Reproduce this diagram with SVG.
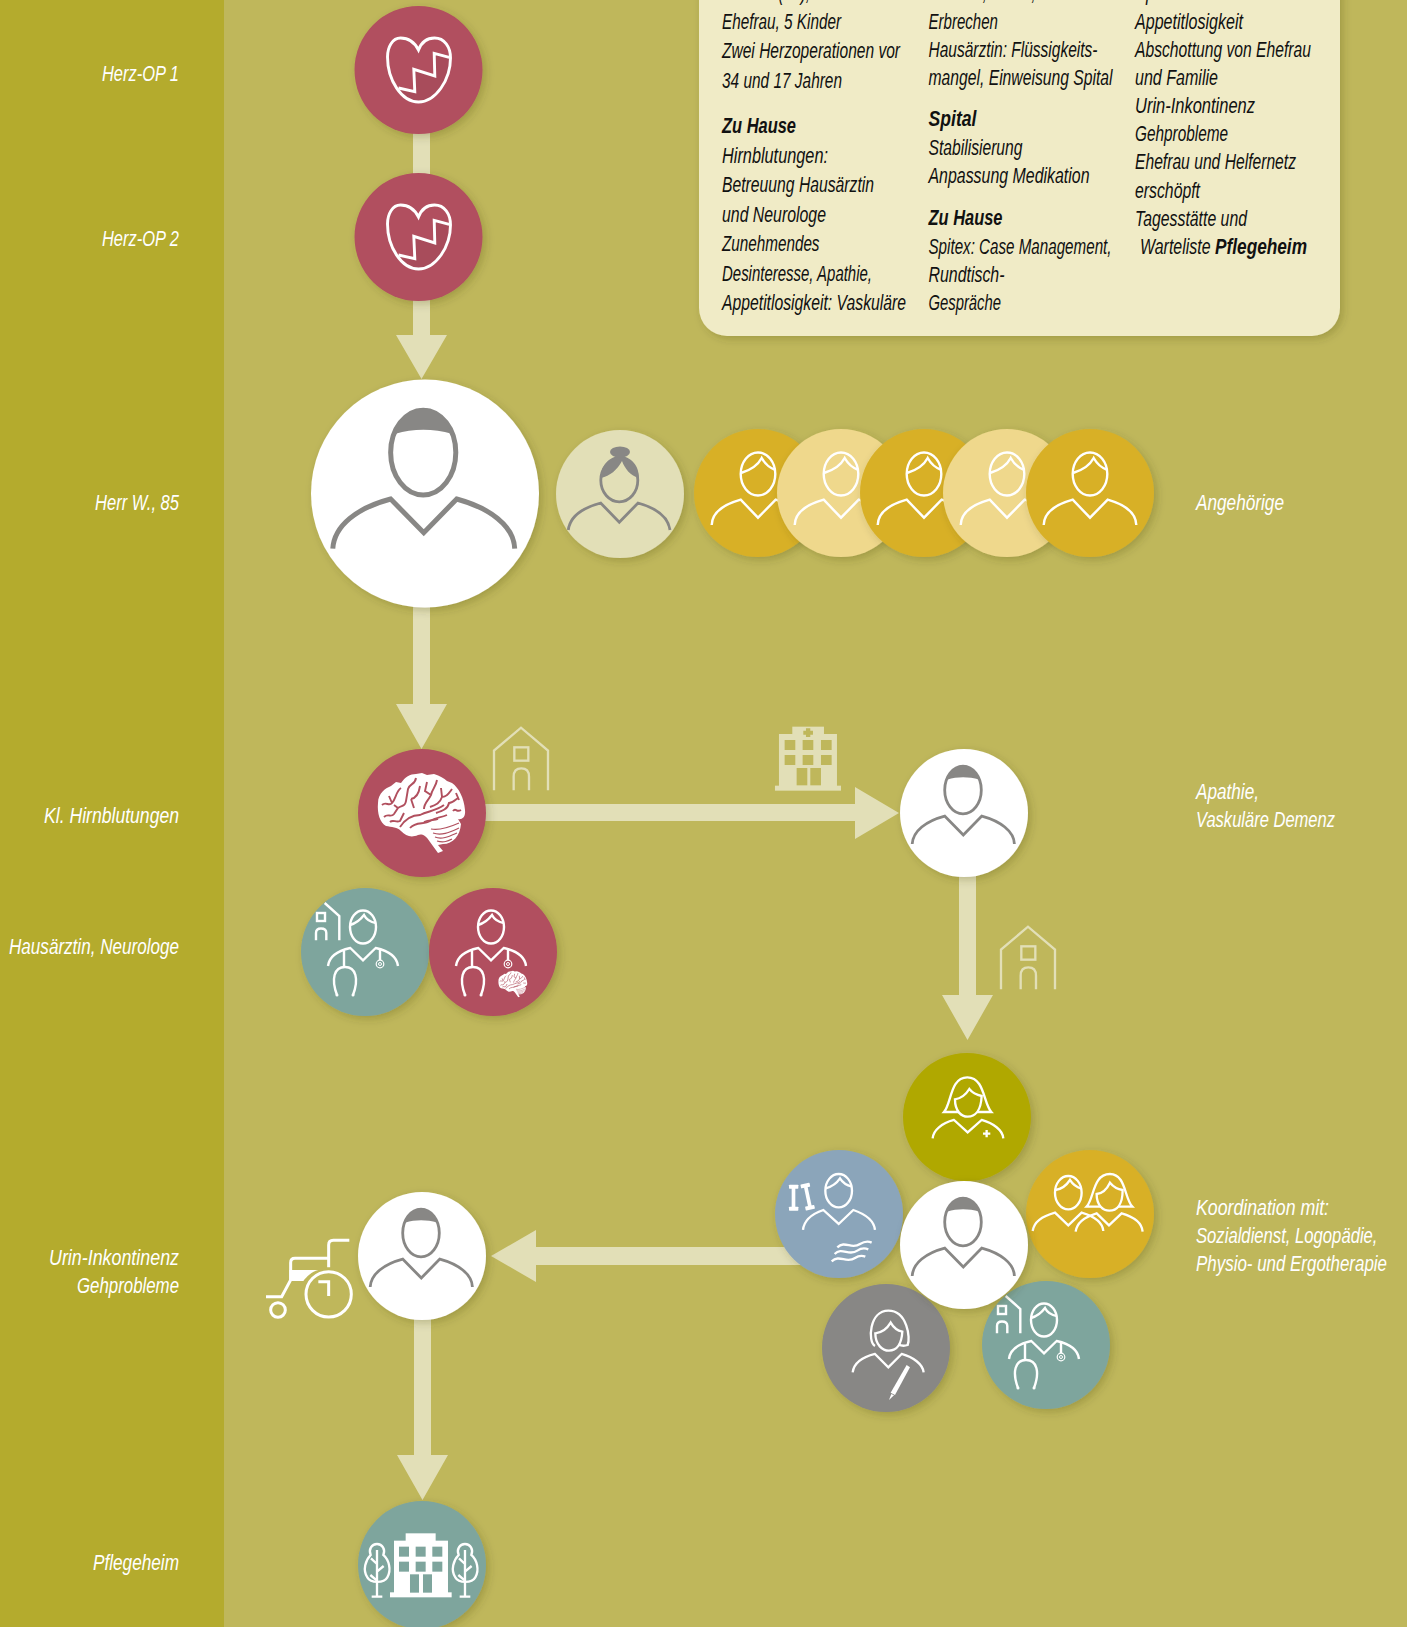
<svg xmlns="http://www.w3.org/2000/svg" width="1407" height="1627" viewBox="0 0 1407 1627">
<style>
text{font-family:"Liberation Sans Narrow","Liberation Sans",Arial,sans-serif;font-style:italic;font-size:22px;fill:#111}
.w text{fill:#fff}
.b{font-weight:bold}
.e{text-anchor:end}
.ln{fill:none;stroke:#fff;stroke-width:2.4}
.gy{fill:none;stroke:#888785;stroke-width:2.8}
.z{fill:none;stroke:#fff;stroke-width:7}
.zf{fill:#fff}
.pale{fill:none;stroke:#e2dfb7;stroke-width:7}
.arrow{fill:#e2dfb7}
</style>
<defs>
<filter id="sh" x="-20%" y="-20%" width="150%" height="150%"><feDropShadow dx="3" dy="3" stdDeviation="4" flood-color="#3a3a10" flood-opacity=".24"/></filter>
<g id="person" class="gy">
<ellipse cx="-1" cy="-23" rx="18.3" ry="23.8"/>
<path d="M-16.5 -33.5C-13 -43 -6 -48 -1 -48C5 -48 11 -42 15 -33.5C5 -36.5 -7 -36.5 -16.5 -33.5Z" fill="#888785" stroke="none"/>
<path d="M-51.8 31C-51 18 -38 8 -19.3 3.1L-.7 22L17.8 3.1C36 8 50 18 50.4 31"/>
</g>
<g id="man" class="ln">
<ellipse cx="0" cy="-19" rx="17.3" ry="21.5"/>
<path d="M-17 -20C-7 -23 0 -28 3.7 -35C7 -29 12 -25 17.5 -23"/>
<path d="M-46.3 32C-46 20 -36 12 -17.3 6.7L0 24.7L17.7 6.7C36 12 46 20 46.3 32"/>
</g>
<g id="doctor" class="ln">
<ellipse cx="-2" cy="-25" rx="13" ry="16.5"/>
<path d="M-15 -27C-8 -29 -4 -33 -1 -37C1 -33 5 -30 11 -29"/>
<path d="M-37 14C-36 5 -28 -1 -14.7 -4L-2 8.3L10.7 -4C24 -1 32 5 33 14"/>
<path d="M-21 -1V14M15 -2V8"/>
<path d="M-28 43C-34 27 -31 15 -20 15C-9 15 -6 27 -12 43"/>
<circle cx="-28" cy="43" r="1.5" fill="#fff" stroke="none"/><circle cx="-12" cy="43" r="1.5" fill="#fff" stroke="none"/>
<circle cx="15" cy="12" r="3.8" stroke-width="1.2"/><circle cx="15" cy="12" r="1.5" stroke-width="1"/>
</g>
<g id="clinic" class="ln">
<rect x="-48" y="-39" width="8" height="8"/>
<path d="M-49 -11.7V-19Q-49 -23.5 -44 -23.5Q-38.7 -23.5 -38.7 -19V-11.7"/>
<path d="M-40.3 -49L-25.7 -36V-11.7"/>
</g>
<g id="heart">
<path d="M-20 18L-3.7 21.7L-4.7 -.7L16.3 6L15.7 -16.7L30.7 -12.7C31 8 18 32 0 32C-9 32 -16 25 -20 18Z" fill="#a84c5b"/>
<path class="ln" style="stroke-width:2.9" d="M0 -20C-4 -28 -11 -32 -18 -32C-26 -32 -31 -23 -31 -13C-31 10 -17 32 0 32C17 32 32 10 32 -12C32 -23 26 -32 16 -32C9 -32 3 -28 0 -20Z"/>
<path class="ln" style="stroke-width:2.9" d="M-20 18L-3.7 21.7L-4.7 -.7L16.3 6L15.7 -16.7L30.7 -12.7"/>
</g>
<g id="brain">
<path fill="#fff" d="M-44 -10C-44 -20 -36 -25 -31 -27L-26 -31L-21 -30C-17 -36 -12 -39 -6 -39L0 -40L5 -38L12 -39C18 -37 22 -35 25 -32L30 -30C37 -25 42 -15 43 -3C44 5 39 7 36 6L39 11C38 23 31 31 21 31L16 32L21 38L16 40L8 29C3 21 -1 21 -4 22C-11 25 -16 23 -21 18C-24 14 -31 14 -36 13C-42 10 -45 0 -44 -10Z"/>
<g fill="none" stroke="#b14f5e" stroke-width="1.9">
<path d="M-40 -8C-36 -12 -33 -6 -30 -10L-33 -17M-30 -10C-26 -14 -26 -22 -21 -25"/>
<path d="M-38 4C-34 0 -31 5 -28 1L-24 -5C-20 -8 -17 -6 -16 -12L-14 -24C-12 -30 -7 -28 -6 -35"/>
<path d="M-32 9C-29 6 -26 10 -22 8L-18 0M-24 -5L-28 -8"/>
<path d="M-22 14C-16 5 -8 2 -2 2C6 -2 14 -2 22 -8"/>
<path d="M-12 15C-6 8 2 12 8 8C14 4 18 5 25 2"/>
<path d="M-11 -14C-6 -15 -3 -20 -2 -27M-11 -14L-8 -5"/>
<path d="M2 -4C2 -10 6 -12 9 -18C10 -24 14 -26 15 -33M9 -18L3 -22L5 -31"/>
<path d="M8 -6C14 -8 18 -10 20 -16L19 -25M20 -16C25 -16 27 -20 30 -24"/>
<path d="M14 0C20 -2 26 -4 27 -10C31 -10 33 -13 36 -15"/>
<path d="M31 -2C34 -6 34 0 39 -3M34 -20L37 -13"/>
<path d="M2 9C7 6 12 8 16 6"/>
<path d="M9 16C18 18 28 14 37 10M11 20C20 23 28 19 37 15M13 24C20 27 28 23 35 20M15 28C22 30 26 28 30 26" stroke-width="1.2"/>
</g>
</g>
<g id="house" class="pale" transform="translate(480,710) scale(.3333)">
<path d="M42 241V122L123 53L204 122V241"/>
<rect x="103" y="112" width="42" height="40"/>
<path d="M101 241V200Q101 175 124 175Q147 175 147 200V241"/>
</g>
<path id="crown" d="M114 162C130 162 140 178 133 195C150 210 158 240 145 262C135 280 95 280 85 262C70 240 80 210 95 195C88 178 98 162 114 162Z"/>
</defs>
<rect width="1407" height="1627" fill="#bfb75b"/>
<rect id="strip" width="224" height="1627" fill="#b4ab2d"/>
<g id="panel">
<rect x="699" y="-40" width="641" height="376" rx="28" fill="#f0ebc6" filter="url(#sh)"/>
<text x="722" y="0" textLength="88" lengthAdjust="spacingAndGlyphs">Herr W. (85),</text>
<text x="722" y="28.5" textLength="119" lengthAdjust="spacingAndGlyphs">Ehefrau, 5 Kinder</text>
<text x="722" y="58" textLength="178" lengthAdjust="spacingAndGlyphs">Zwei Herzoperationen vor</text>
<text x="722" y="87.5" textLength="120" lengthAdjust="spacingAndGlyphs">34 und 17 Jahren</text>
<text x="722" y="133" class="b" textLength="74" lengthAdjust="spacingAndGlyphs">Zu Hause</text>
<text x="722" y="162.5" textLength="106" lengthAdjust="spacingAndGlyphs">Hirnblutungen:</text>
<text x="722" y="192" textLength="152" lengthAdjust="spacingAndGlyphs">Betreuung Hausärztin</text>
<text x="722" y="221.5" textLength="104" lengthAdjust="spacingAndGlyphs">und Neurologe</text>
<text x="722" y="251" textLength="97.5" lengthAdjust="spacingAndGlyphs">Zunehmendes</text>
<text x="722" y="280.5" textLength="150" lengthAdjust="spacingAndGlyphs">Desinteresse, Apathie,</text>
<text x="722" y="310" textLength="184" lengthAdjust="spacingAndGlyphs">Appetitlosigkeit: Vaskuläre</text>
<text x="928.5" y="0" textLength="107" lengthAdjust="spacingAndGlyphs">Demenz, Fieber,</text>
<text x="928.5" y="28.5" textLength="69.5" lengthAdjust="spacingAndGlyphs">Erbrechen</text>
<text x="928.5" y="56.5" textLength="169" lengthAdjust="spacingAndGlyphs">Hausärztin: Flüssigkeits-</text>
<text x="928.5" y="84.5" textLength="184" lengthAdjust="spacingAndGlyphs">mangel, Einweisung Spital</text>
<text x="928.5" y="126" class="b" textLength="48" lengthAdjust="spacingAndGlyphs">Spital</text>
<text x="928.5" y="154.5" textLength="94" lengthAdjust="spacingAndGlyphs">Stabilisierung</text>
<text x="928.5" y="183" textLength="161" lengthAdjust="spacingAndGlyphs">Anpassung Medikation</text>
<text x="928.5" y="225" class="b" textLength="74" lengthAdjust="spacingAndGlyphs">Zu Hause</text>
<text x="928.5" y="253.5" textLength="183" lengthAdjust="spacingAndGlyphs">Spitex: Case Management,</text>
<text x="928.5" y="281.5" textLength="76" lengthAdjust="spacingAndGlyphs">Rundtisch-</text>
<text x="928.5" y="309.5" textLength="72.5" lengthAdjust="spacingAndGlyphs">Gespräche</text>
<text x="1135" y="0" textLength="56" lengthAdjust="spacingAndGlyphs">Apathie</text>
<text x="1135" y="28.5" textLength="108" lengthAdjust="spacingAndGlyphs">Appetitlosigkeit</text>
<text x="1135" y="56.5" textLength="176" lengthAdjust="spacingAndGlyphs">Abschottung von Ehefrau</text>
<text x="1135" y="84.5" textLength="83" lengthAdjust="spacingAndGlyphs">und Familie</text>
<text x="1135" y="112.5" textLength="120" lengthAdjust="spacingAndGlyphs">Urin-Inkontinenz</text>
<text x="1135" y="141" textLength="93" lengthAdjust="spacingAndGlyphs">Gehprobleme</text>
<text x="1135" y="169" textLength="161" lengthAdjust="spacingAndGlyphs">Ehefrau und Helfernetz</text>
<text x="1135" y="197.5" textLength="65" lengthAdjust="spacingAndGlyphs">erschöpft</text>
<text x="1135" y="225.5" textLength="112" lengthAdjust="spacingAndGlyphs">Tagesstätte und</text>
<text x="1140" y="253.5" textLength="70.5" lengthAdjust="spacingAndGlyphs">Warteliste</text>
<text x="1215" y="253.5" class="b" textLength="92" lengthAdjust="spacingAndGlyphs">Pflegeheim</text>
</g>
<g id="labels" class="w">
<text x="179" y="81" class="e" textLength="77" lengthAdjust="spacingAndGlyphs">Herz-OP 1</text>
<text x="179" y="246" class="e" textLength="77" lengthAdjust="spacingAndGlyphs">Herz-OP 2</text>
<text x="179" y="510" class="e" textLength="84" lengthAdjust="spacingAndGlyphs">Herr W., 85</text>
<text x="179" y="823" class="e" textLength="135" lengthAdjust="spacingAndGlyphs">Kl. Hirnblutungen</text>
<text x="179" y="954" class="e" textLength="170" lengthAdjust="spacingAndGlyphs">Hausärztin, Neurologe</text>
<text x="179" y="1265" class="e" textLength="130" lengthAdjust="spacingAndGlyphs">Urin-Inkontinenz</text>
<text x="179" y="1293" class="e" textLength="102" lengthAdjust="spacingAndGlyphs">Gehprobleme</text>
<text x="179" y="1570" class="e" textLength="86" lengthAdjust="spacingAndGlyphs">Pflegeheim</text>
<text x="1196" y="510" textLength="88" lengthAdjust="spacingAndGlyphs">Angehörige</text>
<text x="1196" y="799" textLength="63" lengthAdjust="spacingAndGlyphs">Apathie,</text>
<text x="1196" y="827" textLength="139" lengthAdjust="spacingAndGlyphs">Vaskuläre Demenz</text>
<text x="1196" y="1215" textLength="133" lengthAdjust="spacingAndGlyphs">Koordination mit:</text>
<text x="1196" y="1243" textLength="181.5" lengthAdjust="spacingAndGlyphs">Sozialdienst, Logopädie,</text>
<text x="1196" y="1271" textLength="191" lengthAdjust="spacingAndGlyphs">Physio- und Ergotherapie</text>
</g>
<g id="connectors" class="arrow">
<rect x="413" y="120" width="17" height="60"/>
<polygon points="413,290 430,290 430,335 447,335 421.5,379 396,335 413,335"/>
<polygon points="413,590 430,590 430,704 447,704 421.5,749 396,704 413,704"/>
<polygon points="480,804 855,804 855,787 899,813 855,839 855,821 480,821"/>
<polygon points="959,870 976,870 976,995 993,995 967.5,1040 942,995 959,995"/>
<polygon points="810,1247 536,1247 536,1230 491,1256 536,1282 536,1265 810,1265"/>
<polygon points="414,1310 431,1310 431,1455 448,1455 422.5,1500 397,1455 414,1455"/>
</g>
<g id="icon-house-1"><use href="#house"/></g>
<g id="icon-house-2" transform="translate(507,199)"><use href="#house"/></g>
<g id="icon-hospital" transform="translate(480,710) scale(.3333)" fill="#e2dfb7">
<rect x="885" y="227" width="198" height="15"/><rect x="897" y="72" width="174" height="160"/><rect x="937" y="50" width="95" height="25"/>
<g fill="#bfb75b">
<path d="M978 55h13v7h8v12h-8v7h-13v-7h-8v-12h8Z"/>
<rect x="914" y="90" width="32" height="30"/><rect x="968" y="90" width="32" height="30"/><rect x="1023" y="90" width="32" height="30"/>
<rect x="914" y="135" width="32" height="30"/><rect x="968" y="135" width="32" height="30"/><rect x="1023" y="135" width="32" height="30"/>
<rect x="950" y="174" width="32" height="52"/><rect x="991" y="174" width="32" height="52"/>
</g>
</g>
<g id="herz-op-1" transform="translate(418.5,70)"><circle r="64" fill="#b14f5e" filter="url(#sh)"/><use href="#heart"/></g>
<g id="herz-op-2" transform="translate(418.5,237)"><circle r="64" fill="#b14f5e" filter="url(#sh)"/><use href="#heart"/></g>
<g id="herr-w" transform="translate(425,493.5)"><circle r="114" fill="#fff" filter="url(#sh)"/><use href="#person" transform="scale(1.78)"/></g>
<g id="ehefrau" transform="translate(620,494)"><circle r="64" fill="#e2dfb7" filter="url(#sh)"/>
<g class="gy">
<ellipse cx="-.7" cy="-13.7" rx="18.5" ry="21.5"/>
<path d="M-19 -16C-20 -28 -10 -38 0 -38C10 -38 20 -28 18.5 -16C10 -19 5 -25 2 -33C-3 -24 -10 -18 -19 -16Z" fill="#888785" stroke="none"/>
<ellipse cx="0" cy="-42" rx="10" ry="5.5" fill="#888785" stroke="none"/>
<path d="M-51.7 36C-50 22 -38 14 -19.3 9L-.7 28.3L18 9C36 14 48 22 50 36"/>
</g></g>
<g id="kind-1" transform="translate(758,493)"><circle r="64" fill="#d8b027" filter="url(#sh)"/><use href="#man"/></g>
<g id="kind-2" transform="translate(841,493)"><circle r="64" fill="#efd88c" filter="url(#sh)"/><use href="#man"/></g>
<g id="kind-3" transform="translate(924,493)"><circle r="64" fill="#d8b027" filter="url(#sh)"/><use href="#man"/></g>
<g id="kind-4" transform="translate(1007,493)"><circle r="64" fill="#efd88c" filter="url(#sh)"/><use href="#man"/></g>
<g id="kind-5" transform="translate(1090,493)"><circle r="64" fill="#d8b027" filter="url(#sh)"/><use href="#man"/></g>
<g id="hirnblutungen" transform="translate(422,813)"><circle r="64" fill="#b14f5e" filter="url(#sh)"/><use href="#brain"/></g>
<g id="patient-2" transform="translate(964,813)"><circle r="64" fill="#fff" filter="url(#sh)"/><use href="#person"/></g>
<g id="hausaerztin" transform="translate(365,952)"><circle r="64" fill="#7ea59d" filter="url(#sh)"/><use href="#doctor"/><use href="#clinic"/></g>
<g id="neurologe" transform="translate(493,952)"><circle r="64" fill="#b14f5e" filter="url(#sh)"/><use href="#doctor"/><use href="#brain" transform="translate(20,32) scale(.33)"/></g>
<g id="pflege" transform="translate(967,1117)"><circle r="64" fill="#b0a800" filter="url(#sh)"/></g>
<g id="icon-pflege" transform="translate(760,1040) scale(.3333)" class="z">
<path d="M552 216C575 190 570 112 622 112C674 112 670 190 694 216Z"/>
<path d="M585 178C585 215 605 230 623 230C645 230 663 212 665 168C650 165 637 158 628 147C620 160 605 175 585 178Z" fill="#b0a800"/>
<path d="M518 295C520 270 545 250 582 240L623 277L665 240C700 250 728 270 730 295"/>
<path d="M680 270V292M669 281H691"/>
</g>
<g id="physio" transform="translate(839,1214)"><circle r="64" fill="#8ba5ba" filter="url(#sh)"/></g>
<g id="icon-physio" transform="translate(760,1040) scale(.3333)">
<g class="z">
<ellipse cx="236" cy="452" rx="40" ry="50"/>
<path d="M197 445C215 440 230 430 240 415C248 428 260 436 276 440"/>
<path d="M129 570C132 540 155 522 190 510L236 552L280 510C315 522 342 540 345 570"/>
<path d="M232 622C255 600 275 630 300 612C315 603 325 603 335 608M224 642C245 620 268 650 292 632C305 623 315 624 325 628M215 664C238 642 260 672 285 654C297 646 306 646 316 650"/>
</g>
<g class="zf">
<rect x="87" y="434" width="28" height="12" rx="2"/><rect x="87" y="500" width="28" height="12" rx="2"/><rect x="95" y="444" width="11" height="58"/>
<g transform="rotate(-12 143 470)"><rect x="129" y="430" width="28" height="12" rx="2"/><rect x="129" y="498" width="28" height="12" rx="2"/><rect x="138" y="440" width="11" height="60"/></g>
</g>
</g>
<g id="sozialdienst" transform="translate(1090,1214)"><circle r="64" fill="#d8b027" filter="url(#sh)"/></g>
<g id="icon-sozialdienst" transform="translate(760,1040) scale(.3333)" class="z">
<ellipse cx="925" cy="458" rx="40" ry="50"/>
<path d="M886 450C905 448 920 435 930 420C938 433 950 442 964 446"/>
<path d="M818 573C822 545 845 530 885 518L925 556L965 518C1005 530 1028 548 1030 573"/>
<path d="M980 500C1003 475 998 402 1050 402C1098 402 1093 475 1117 500Z"/>
<path d="M1010 462C1010 497 1030 512 1048 512C1070 512 1088 495 1088 450C1075 448 1060 440 1050 428C1042 445 1028 460 1010 462Z" fill="#d8b027"/>
<path d="M947 575C950 550 970 532 1010 520L1047 556L1085 520C1120 530 1146 548 1148 575"/>
</g>
<g id="logopaedie" transform="translate(886,1348)"><circle r="64" fill="#888785" filter="url(#sh)"/></g>
<g id="icon-logopaedie" transform="translate(760,1040) scale(.3333)">
<g class="z">
<path d="M345 918C322 905 328 812 385 812C442 812 452 895 443 915C435 918 425 918 415 914"/>
<path d="M346 880C346 915 368 932 387 932C410 932 425 912 427 875C412 872 400 862 392 848C382 865 365 878 346 880Z" fill="#888785"/>
<path d="M278 997C282 970 305 952 345 942L385 982L425 942C460 952 488 972 491 997"/>
</g>
<path d="M440 975L450 982L405 1065L392 1058Z" fill="#fff"/><path d="M394 1062L402 1066L387 1080Z" fill="#fff"/>
</g>
<g id="ergo" transform="translate(1046,1345)"><circle r="64" fill="#7ea59d" filter="url(#sh)"/><use href="#doctor"/><use href="#clinic"/></g>
<g id="patient-3" transform="translate(964,1245)"><circle r="64" fill="#fff" filter="url(#sh)"/><use href="#person"/></g>
<g id="patient-4" transform="translate(422,1256)"><circle r="64" fill="#fff" filter="url(#sh)"/><use href="#person"/></g>
<g id="icon-wheelchair" transform="translate(250,1180) scale(.3333)" class="z" style="stroke-width:9">
<path d="M298 181H250Q236 181 236 195V262"/>
<path d="M236 235H135Q122 235 122 248V300L95 350H48"/>
<path d="M118 270H205C185 275 170 290 160 303H118Z" fill="#fff" stroke="none"/>
<circle cx="236" cy="343" r="68"/>
<path d="M205 305H236V348"/>
<circle cx="84" cy="390" r="22"/>
</g>
<g id="pflegeheim" transform="translate(422,1565)"><circle r="64" fill="#7ea59d" filter="url(#sh)"/></g>
<g id="icon-pflegeheim" transform="translate(339,1490) scale(.3333)">
<g class="zf">
<rect x="165" y="152" width="162" height="160"/><rect x="200" y="130" width="90" height="25"/><rect x="153" y="307" width="185" height="15"/>
</g>
<g fill="#7ea59d">
<rect x="180" y="170" width="30" height="30"/><rect x="230" y="170" width="30" height="30"/><rect x="280" y="170" width="30" height="30"/>
<rect x="180" y="215" width="30" height="30"/><rect x="230" y="215" width="30" height="30"/><rect x="280" y="215" width="30" height="30"/>
<rect x="213" y="253" width="27" height="55"/><rect x="252" y="253" width="27" height="55"/>
</g>
<g class="z"><use href="#crown"/><path d="M114 180V320M98 320H130M114 222L96 205M114 245L134 228M114 272L94 255"/></g>
<g class="z" transform="translate(264,0)"><use href="#crown"/><path d="M114 180V320M98 320H130M114 222L96 205M114 245L134 228M114 272L94 255"/></g>
</g>
</svg>
